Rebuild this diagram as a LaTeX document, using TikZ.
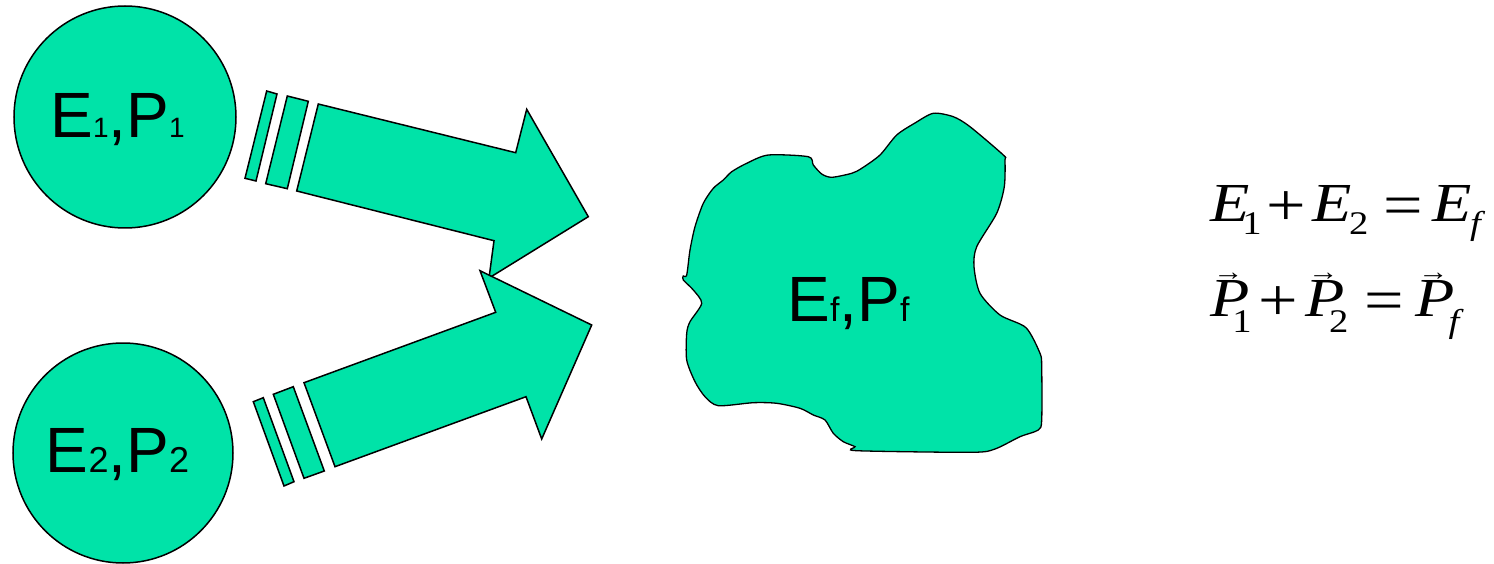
\documentclass[tikz,border=0pt]{standalone}
\usepackage{fontspec}
\usepackage{graphicx}
\setmainfont{Liberation Sans}
\newfontfamily\eqfont{Liberation Serif}
\definecolor{gr}{RGB}{0,227,168}
\newcommand\lsub[2]{{\fontsize{#1}{#1}\selectfont #2}}
\newcommand\eqsub[2]{\raisebox{-#1pt}{\upshape\fontsize{33}{33}\selectfont #2}}
\newcommand\eqop[1]{\raisebox{-3.5pt}{\upshape\fontsize{60}{60}\selectfont #1}}
\newcommand\vP{\rlap{\hspace{2.5pt}\raisebox{36pt}{\upshape\fontsize{26}{26}\selectfont →}}P}
\begin{document}
\begin{tikzpicture}[x=1pt,y=-1pt,
  blk/.style={fill=gr, draw=black, line width=1.5pt, line join=miter},
  ball/.style={blk, circle, inner sep=0pt},
  lbl/.style={inner sep=0pt, font=\fontsize{64}{64}\selectfont},
  eq/.style={inner sep=0pt, font=\eqfont\fontsize{55}{55}\selectfont}]
\useasboundingbox (0,0) rectangle (1494,564);
% balls
\node[ball, minimum size=222pt] (c1) at (125,117) {};
\node[ball, minimum size=220pt] (c2) at (123,453) {};
\node[lbl, anchor=base] (t1) at (117.5,138) {E\lsub{28}{1},P\lsub{28}{1}};
\node[lbl, anchor=base] (t2) at (117.5,472) {E\lsub{36}{2},P\lsub{36}{2}};
% upper arrow
\draw[blk] (266.7,91) -- (277,94) -- (256,181) -- (245,178.3) -- cycle;
\draw[blk] (287.3,96) -- (308.3,101.3) -- (287.3,188.7) -- (265.7,183.7) -- cycle;
\draw[blk] (318.3,104) -- (515.7,152.7) -- (526.7,109.3) -- (588.3,216.7) -- (489,278) -- (494,240.7) -- (296.7,191) -- cycle;
% lower arrow
\draw[blk] (253.3,401.7) -- (263.3,397.7) -- (294,481.7) -- (284,486) -- cycle;
\draw[blk] (273.3,394.3) -- (293.3,386.7) -- (324.3,471) -- (304,478.3) -- cycle;
\draw[blk] (304,382.7) -- (495.7,312.3) -- (480,270.7) -- (591.7,325) -- (541.7,439) -- (526,396.7) -- (335,466.7) -- cycle;
% blob
\draw[blk, line width=1.3pt] plot[smooth cycle, tension=0.45] coordinates {
(933.3,113.3) (953.3,116.7) (970,126.7) (1003.3,155) (1005,160) (1004.3,186.7)
(996.7,213.3) (976.7,246.7) (974,266.7) (980,293.3) (1000,315) (1026,327.7)
(1040,353.3) (1041.7,366.7) (1041.7,420) (1038.3,430) (1020,436.7) (995,449)
(971.7,452.3) (856.7,450.7) (855,446.7) (843.3,441.7) (833.3,433.3) (825,420)
(813.3,415) (800,408.3) (776.7,403.3) (753.3,402.7) (718.3,405.7) (705,396.7)
(695,381.7) (686.7,360) (686.7,333.3) (690,321.7) (701.7,303.3) (693.3,290)
(683.3,280) (683.3,276) (686.7,275) (690,250) (695,226.7) (703.3,203.3)
(713.3,188.3) (723.3,180) (731.7,171.7) (746.7,163.3) (768.3,155) (808.3,156.7)
(813.3,165) (821.7,174) (831.7,177.3) (851.7,173.3) (861.7,168.3) (880,155)
(896.7,135) (915,123)};
\node[lbl, anchor=base] (tf) at (848.5,321.7) {E\lsub{34}{f},P\lsub{34}{f}};
% equations
\node[eq, anchor=base west] (eq1) at (1210,221.7) {\scalebox{1.17}[1]{\itshape E\hspace{-6.1pt}\eqsub{13}{1}\hspace{3.8pt}\eqop{+}\hspace{5.4pt}\itshape E\hspace{-1.8pt}\eqsub{13}{2}\hspace{12.5pt}\eqop{=}\hspace{7.9pt}\itshape E\hspace{-1pt}\eqsub{13}{\itshape f}}};
\node[eq, anchor=base west] (eq2) at (1210,316.7) {\scalebox{1.17}[1]{\itshape \vP\hspace{-14.6pt}\eqsub{16}{1}\hspace{5.4pt}\eqop{+}\hspace{6.4pt}\itshape \vP\hspace{-13pt}\eqsub{16}{2}\hspace{13.9pt}\eqop{=}\hspace{9.2pt}\itshape \vP\hspace{-5pt}\eqsub{16}{\itshape f}}};
\end{tikzpicture}
\end{document}
